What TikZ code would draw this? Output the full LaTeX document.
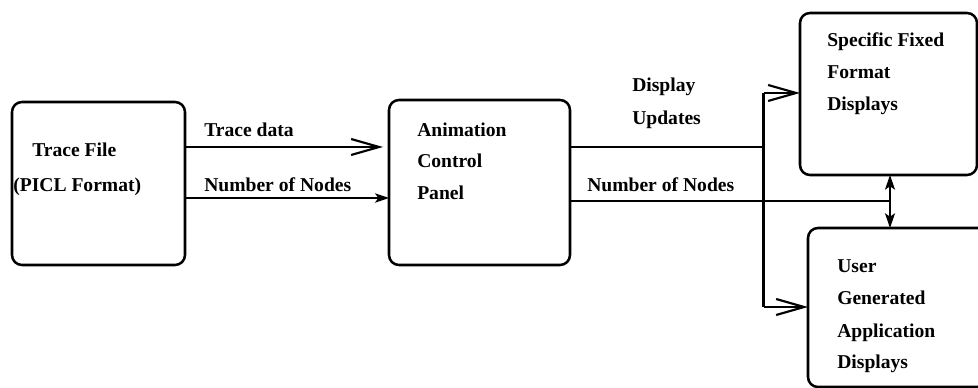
\documentclass[tikz,border=0pt]{standalone}
\usepackage{fontspec}
\setmainfont{Liberation Serif}
\usetikzlibrary{arrows.meta}

\tikzset{
  box/.style={draw, line width=1.9pt, rounded corners=7.5pt, inner sep=0pt, outer sep=0pt},
  lbl/.style={anchor=base west, inner sep=0pt, font=\fontsize{14.7}{18}\selectfont\bfseries},
  flow/.style={line width=1.6pt},
  thin flow/.style={line width=1.3pt},
  open tip/.style={-{Straight Barb[length=21pt, width=12pt, line width=1.6pt]}},
  solid tip/.style={-{Stealth[length=10.5pt, width=7pt, inset=2.5pt]}},
  both tips/.style={{Stealth[length=11pt, width=7.5pt, inset=2.5pt]}-{Stealth[length=11pt, width=7.5pt, inset=2.5pt]}}
}

\begin{document}
\begin{tikzpicture}[x=0.75pt, y=-0.75pt]
  \useasboundingbox (0,0) rectangle (978,388);
  \clip (0,0) rectangle (978,388);

  % blocks
  \node[box, minimum width=173*0.75pt, minimum height=163*0.75pt] (tf)  at (98.5,183.5) {};
  \node[box, minimum width=181*0.75pt, minimum height=165*0.75pt] (acp) at (479.5,182.5) {};
  \node[box, minimum width=177*0.75pt, minimum height=162*0.75pt] (sfd) at (888.5,94) {};
  \node[box, minimum width=187*0.75pt, minimum height=159*0.75pt] (ugd) at (901.5,307.5) {};

  % block texts
  \node[lbl] (tf1) at (32,157)  {Trace File};
  \node[lbl] (tf2) at (13,192)  {(PICL Format)};
  \node[lbl] (ac1) at (417,137) {Animation};
  \node[lbl] (ac2) at (417,168) {Control};
  \node[lbl] (ac3) at (417,200) {Panel};
  \node[lbl] (sf1) at (827,47)  {Specific Fixed};
  \node[lbl] (sf2) at (827,79)  {Format};
  \node[lbl] (sf3) at (827,111) {Displays};
  \node[lbl] (ug1) at (837,273) {User};
  \node[lbl] (ug2) at (837,305) {Generated};
  \node[lbl] (ug3) at (837,337) {Application};
  \node[lbl] (ug4) at (837,368) {Displays};

  % connector levels and junctions
  \coordinate (yTD) at (0,147);
  \coordinate (yNL) at (0,198);
  \coordinate (yNR) at (0,201);
  \coordinate (vtop) at (763.5,93);
  \coordinate (vmid) at (763.5,147);
  \coordinate (vbot) at (763.5,307);
  \coordinate (xDA) at (890,0);

  % trace file -> animation control panel
  \draw[flow, open tip, shorten >=4.5pt] (tf.east |- yTD) -- (acp.west |- yTD);
  \draw[thin flow, solid tip] (tf.east |- yNL) -- (acp.west |- yNL);

  % display updates, split to both display blocks
  \draw[flow] (acp.east |- vmid) -- (vmid);
  \draw[flow] (vtop) -- (vbot);
  \draw[flow, open tip] (vtop) -- (sfd.west |- vtop);
  \draw[flow, open tip] (vbot) -- (ugd.west |- vbot);

  % number of nodes to the displays
  \draw[thin flow] (acp.east |- yNR) -- (xDA |- yNR);
  \draw[thin flow, both tips] (sfd.south -| xDA) -- (ugd.north -| xDA);

  % connector labels
  \node[lbl] (lTD)  at (204,137) {Trace data};
  \node[lbl] (lNL)  at (204,192) {Number of Nodes};
  \node[lbl] (lDU1) at (632,92)  {Display};
  \node[lbl] (lDU2) at (632,125) {Updates};
  \node[lbl] (lNR)  at (587,192) {Number of Nodes};
\end{tikzpicture}
\end{document}
